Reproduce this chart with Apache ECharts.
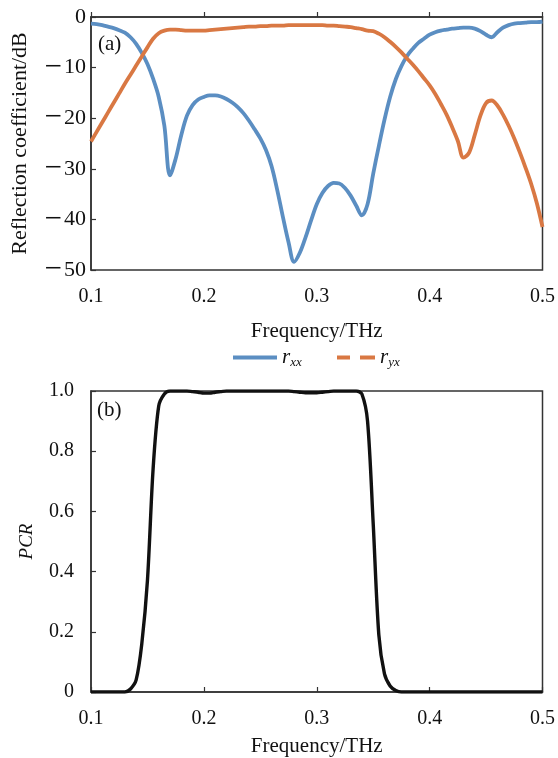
<!DOCTYPE html>
<html>
<head>
<meta charset="utf-8">
<script src="https://cdn.jsdelivr.net/npm/echarts@6/dist/echarts.min.js"></script>
<style>
html,body{margin:0;padding:0;background:#fff;}
#chart{width:558px;height:758px;}
</style>
</head>
<body>
<div id="chart"></div>
<script>
// Frequency grid (THz)
const freq = [];
for (let i = 0; i <= 80; i++) freq.push(+(0.1 + i * 0.005).toFixed(3));

// r_xx (dB)
const rxx = [-1.3,-1.4,-1.6,-1.9,-2.2,-2.6,-3.1,-4.0,-5.3,-7.1,
  -9.3,-12.2,-15.8,-21.5,-31.3,-28.0,-23.3,-19.5,-17.4,-16.3,
  -15.8,-15.5,-15.5,-15.7,-16.2,-16.9,-17.8,-19.0,-20.5,-22.2,
  -24.0,-26.3,-29.5,-34.2,-39.5,-44.5,-48.4,-46.6,-43.6,-40.2,
  -37.0,-34.8,-33.4,-32.8,-32.9,-33.8,-35.3,-37.3,-39.2,-37.0,
  -31.0,-25.5,-20.3,-15.8,-12.3,-9.7,-7.7,-6.3,-5.1,-4.3,
  -3.5,-3.0,-2.7,-2.5,-2.3,-2.2,-2.1,-2.1,-2.3,-2.8,
  -3.5,-4.0,-3.0,-2.1,-1.6,-1.3,-1.2,-1.1,-1.0,-1.0,-0.9];

// r_yx (dB)
const ryx = [-24.6,-22.7,-20.8,-18.9,-17.0,-15.1,-13.2,-11.4,-9.6,-7.8,
  -6.0,-4.3,-3.2,-2.7,-2.5,-2.5,-2.6,-2.7,-2.7,-2.7,
  -2.7,-2.6,-2.5,-2.4,-2.3,-2.2,-2.1,-2.0,-1.9,-1.9,
  -1.8,-1.8,-1.7,-1.7,-1.7,-1.6,-1.6,-1.6,-1.6,-1.6,
  -1.6,-1.6,-1.7,-1.7,-1.8,-1.9,-2.0,-2.2,-2.4,-2.7,
  -2.8,-3.3,-4.0,-4.9,-5.9,-7.0,-8.2,-9.4,-10.7,-12.1,
  -13.5,-15.2,-17.2,-19.3,-21.8,-24.5,-27.8,-26.8,-23.3,-19.5,
  -17.0,-16.5,-17.5,-19.3,-21.5,-24.0,-26.8,-29.8,-33.0,-36.8,-41.5];

// PCR
const pcr = [0,0,0,0,0,0,0,0.01,0.04,0.16,
  0.37,0.74,0.95,0.99,1.0,1.0,1.0,1.0,0.998,0.996,
  0.993,0.993,0.996,0.998,1.0,1.0,1.0,1.0,1.0,1.0,
  1.0,1.0,1.0,1.0,1.0,1.0,0.998,0.996,0.994,0.994,
  0.994,0.996,0.998,1.0,1.0,1.0,1.0,1.0,0.99,0.90,
  0.56,0.19,0.06,0.02,0.005,0,0,0,0,0,
  0,0,0,0,0,0,0,0,0,0,
  0,0,0,0,0,0,0,0,0,0,0];

const xTicks = [0.1, 0.5, 0.1];   // min, max, interval
const yTicksA = [-50, 0, 10];
const yTicksB = [0, 1, 0.2];

const FONT = '"Liberation Serif", "Times New Roman", serif';
const C_BLUE = '#5b8ec2';
const C_ORANGE = '#d97843';

const pair = (ys) => freq.map((f, i) => [f, ys[i]]);

function xAxisCfg(gi, margin, gap) {
  return {
    type: 'value', gridIndex: gi, min: xTicks[0], max: xTicks[1], interval: xTicks[2],
    name: 'Frequency/THz', nameLocation: 'middle', nameGap: gap,
    nameTextStyle: {fontFamily: FONT, fontSize: 21, color: '#111'},
    axisLine: {show: true, lineStyle: {color: '#333', width: 1.5}},
    axisTick: {show: true, inside: true, length: 5, lineStyle: {color: '#333', width: 1.2}},
    axisLabel: {fontFamily: FONT, fontSize: 20, color: '#111', margin: margin,
      formatter: v => v.toFixed(1)},
    splitLine: {show: false}
  };
}

const legendText = {
  rich: {
    r: {fontFamily: FONT, fontSize: 21, fontStyle: 'italic', color: '#111'},
    s: {fontFamily: FONT, fontSize: 13, fontStyle: 'italic', color: '#111', padding: [10, 0, 0, 0]}
  }
};
const legendFmt = n => n === 'rxx' ? '{r|r}{s|xx}' : '{r|r}{s|yx}';

const option = {
  animation: false,
  backgroundColor: '#fff',
  grid: [
    {left: 91, right: 14, top: 17, height: 253, show: true, borderColor: '#333', borderWidth: 1.5, backgroundColor: 'transparent'},
    {left: 91, right: 14, top: 391, height: 302, show: true, borderColor: '#333', borderWidth: 1.5, backgroundColor: 'transparent'}
  ],
  xAxis: [xAxisCfg(0, 17, 51), xAxisCfg(1, 17, 44)],
  yAxis: [
    {
      type: 'value', gridIndex: 0, min: yTicksA[0], max: yTicksA[1], interval: yTicksA[2],
      name: 'Reflection coefficient/dB', nameLocation: 'middle', nameGap: 60, nameRotate: 90,
      nameTextStyle: {fontFamily: FONT, fontSize: 22, color: '#111'},
      axisLine: {show: true, lineStyle: {color: '#333', width: 1.5}},
      axisTick: {show: true, inside: true, length: 5, lineStyle: {color: '#333', width: 1.2}},
      axisLabel: {margin: 5,
        formatter: v => v < 0 ? '{m|\u2212}{n|' + Math.abs(v) + '}' : '{n|' + v + '}',
        rich: {
          m: {fontFamily: FONT, fontSize: 31, color: '#111', padding: [0, 2, 0, 0]},
          n: {fontFamily: FONT, fontSize: 22, color: '#111'}
        }},
      splitLine: {show: false}
    },
    {
      type: 'value', gridIndex: 1, min: yTicksB[0], max: yTicksB[1], interval: yTicksB[2],
      name: 'PCR', nameLocation: 'middle', nameGap: 55, nameRotate: 90,
      nameTextStyle: {fontFamily: FONT, fontSize: 19, color: '#111', fontStyle: 'italic'},
      axisLine: {show: true, lineStyle: {color: '#333', width: 1.5}},
      axisTick: {show: true, inside: true, length: 5, lineStyle: {color: '#333', width: 1.2}},
      axisLabel: {fontFamily: FONT, fontSize: 20, color: '#111', margin: 17,
        formatter: v => v === 0 ? '0' : v.toFixed(1)},
      splitLine: {show: false}
    }
  ],
  legend: [
    {
      left: 233, top: 347, padding: 0, itemWidth: 44, itemHeight: 4,
      data: [{name: 'rxx', icon: 'rect'}],
      formatter: legendFmt, textStyle: legendText
    },
    {
      left: 337, top: 347, padding: 0, itemWidth: 38, itemHeight: 4,
      data: [{name: 'ryx', icon: 'path://M0,0h13v4h-13z M23,0h15v4h-15z'}],
      formatter: legendFmt, textStyle: legendText
    }
  ],
  graphic: [
    {type: 'text', left: 98, top: 34, style: {text: '(a)', font: '21px ' + FONT, fill: '#111'}},
    {type: 'text', left: 97, top: 400, style: {text: '(b)', font: '21px ' + FONT, fill: '#111'}}
  ],
  series: [
    {name: 'rxx', type: 'line', xAxisIndex: 0, yAxisIndex: 0, data: pair(rxx), showSymbol: false, symbol: 'none',
      smooth: 0.35, lineStyle: {color: C_BLUE, width: 3.8}, itemStyle: {color: C_BLUE}},
    {name: 'ryx', type: 'line', xAxisIndex: 0, yAxisIndex: 0, data: pair(ryx), showSymbol: false, symbol: 'none',
      smooth: 0.35, lineStyle: {color: C_ORANGE, width: 3.8}, itemStyle: {color: C_ORANGE}},
    {name: 'PCR', type: 'line', xAxisIndex: 1, yAxisIndex: 1, data: pair(pcr), showSymbol: false, symbol: 'none',
      smooth: 0.3, lineStyle: {color: '#111', width: 3.4}, itemStyle: {color: '#111'}}
  ]
};

const chart = echarts.init(document.getElementById('chart'), null, {renderer: 'canvas'});
chart.setOption(option);
</script>
</body>
</html>
